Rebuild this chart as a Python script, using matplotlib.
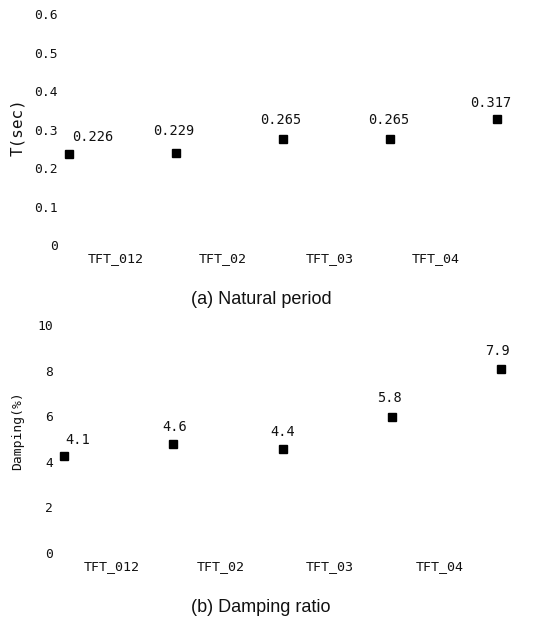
import matplotlib
matplotlib.use("Agg")
import matplotlib.pyplot as plt
import matplotlib.transforms as mtrans

# ---- data ----
categories = ["TFT_012", "TFT_02", "TFT_03", "TFT_04"]
period_values = [0.226, 0.229, 0.265, 0.265, 0.317]
damping_values = [4.1, 4.6, 4.4, 5.8, 7.9]
period_ticks = [0, 0.1, 0.2, 0.3, 0.4, 0.5, 0.6]
period_tick_labels = ["0", "0.1", "0.2", "0.3", "0.4", "0.5", "0.6"]
damping_ticks = [0, 2, 4, 6, 8, 10]
damping_tick_labels = ["0", "2", "4", "6", "8", "10"]

# label offsets (pixels) for annotations
period_offsets = [(24, 17), (-2, 22), (-2, 19), (-1, 19), (-6, 16)]
damping_offsets = [(14, 16), (1, 17), (0, 17), (-2, 19), (-3, 18)]

W, H = 543, 620
fig = plt.figure(figsize=(W / 100, H / 100), dpi=100)

MONO = "DejaVu Sans Mono"


def axes_rect(x0_px, unit_px, xlim, y_bottom_px, y_top_px):
    left = x0_px + xlim[0] * unit_px
    right = x0_px + xlim[1] * unit_px
    return [left / W, 1 - y_bottom_px / H, (right - left) / W, (y_bottom_px - y_top_px) / H]


def draw_panel(ax, values, ticks, tick_labels, ylim, offsets, fmt, label_shift_px):
    xs = list(range(len(values)))
    ax.plot(xs, values, linestyle="none", marker="s", markersize=6.3,
            color="black")
    for x, v, (dx, dy) in zip(xs, values, offsets):
        ax.annotate(fmt(v), (x, v), xytext=(dx, dy), textcoords="offset pixels",
                    ha="center", va="center", fontsize=9.8, family=MONO,
                    color="#111111")
    ax.set_ylim(*ylim)
    ax.set_xlim(-0.05, 4.3)
    ax.set_yticks(ticks)
    ax.set_yticklabels(tick_labels, family=MONO, fontsize=9.4, color="#111111")
    ax.set_xticks([i + 0.435 for i in range(len(categories))])
    ax.set_xticklabels(categories, family=MONO, fontsize=9.6, color="#111111")
    ax.tick_params(axis="y", length=0, pad=4)
    ax.tick_params(axis="x", length=0, pad=8)
    for s in ax.spines.values():
        s.set_visible(False)
    shift = mtrans.ScaledTranslation(0, -label_shift_px / 100, fig.dpi_scale_trans)
    for lab in ax.get_yticklabels():
        lab.set_transform(lab.get_transform() + shift)


xlim = (-0.05, 4.3)
ax1 = fig.add_axes(axes_rect(69, 106.9, xlim, 241.3, 10.3))
draw_panel(ax1, period_values, period_ticks, period_tick_labels, (0, 0.6),
           period_offsets, lambda v: f"{v:.3f}", 4)

ax2 = fig.add_axes(axes_rect(64, 109.25, xlim, 548.9, 321.5))
draw_panel(ax2, damping_values, damping_ticks, damping_tick_labels, (0, 10),
           damping_offsets, lambda v: f"{v:.1f}", 3.7)

fig.text(18 / W, 1 - 127 / H, "T(sec)", rotation=90, ha="center", va="center",
         family=MONO, fontsize=11.5, color="#111111")
fig.text(18 / W, 1 - 431 / H, "Damping(%)", rotation=90, ha="center", va="center",
         family=MONO, fontsize=9.4, color="#111111")

fig.text(261 / W, 1 - 300 / H, "(a) Natural period", ha="center", va="center",
         family="Liberation Sans", fontsize=13, color="#111111")
fig.text(261 / W, 1 - 608 / H, "(b) Damping ratio", ha="center", va="center",
         family="Liberation Sans", fontsize=13, color="#111111")

fig.savefig("out.png", dpi=100, facecolor="white")
